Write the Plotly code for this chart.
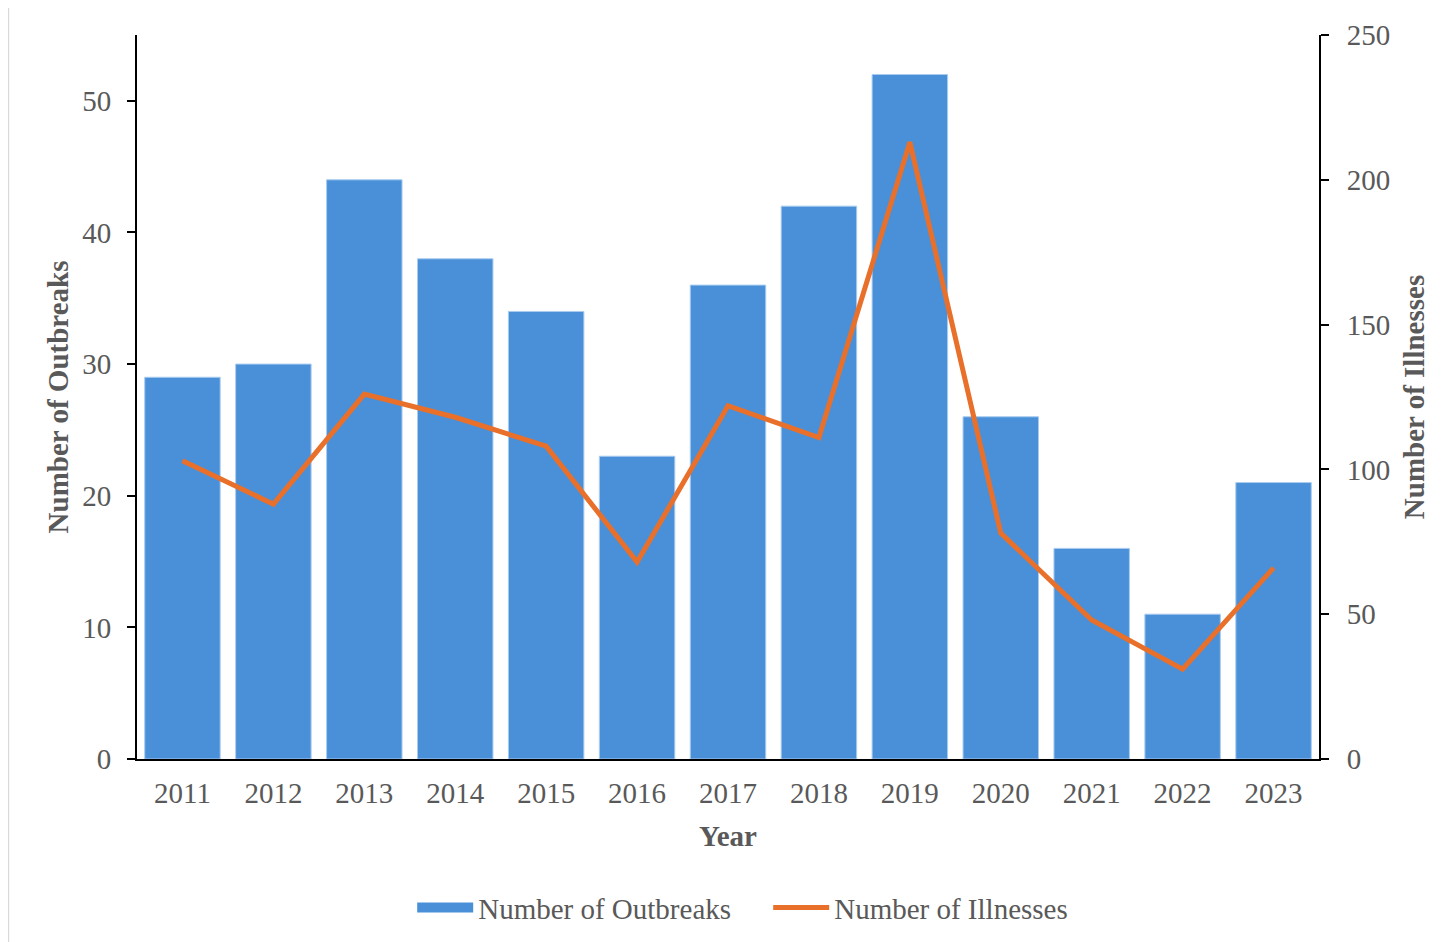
import plotly.graph_objects as go

years = ["2011", "2012", "2013", "2014", "2015", "2016", "2017", "2018", "2019", "2020", "2021", "2022", "2023"]
outbreaks = [29, 30, 44, 38, 34, 23, 36, 42, 52, 26, 16, 11, 21]
illnesses = [103, 88, 126, 118, 108, 68, 122, 111, 213, 78, 48, 31, 66]

left_ticks = [0, 10, 20, 30, 40, 50]
right_ticks = [0, 50, 100, 150, 200, 250]

BAR_COLOR = "#4A90D9"
LINE_COLOR = "#E8702A"
TEXT_COLOR = "#595959"
FONT = "Liberation Serif"
FS = 29

def f(size=FS):
    return dict(family=FONT, size=size, color=TEXT_COLOR)

fig = go.Figure()
fig.add_trace(go.Bar(
    x=years, y=outbreaks, name="Number of Outbreaks",
    marker=dict(color=BAR_COLOR, line=dict(color="#A9CBEF", width=1)),
    yaxis="y", showlegend=False,
))
# legend proxy for the bar series (wide rectangle symbol)
fig.add_trace(go.Scatter(
    x=[None], y=[None], name="Number of Outbreaks", mode="lines",
    line=dict(color=BAR_COLOR, width=16), yaxis="y",
))
fig.add_trace(go.Scatter(
    x=years, y=illnesses, name="Number of Illnesses", mode="lines",
    line=dict(color=LINE_COLOR, width=5),
    yaxis="y2",
))

fig.update_layout(
    width=1446, height=942,
    margin=dict(l=129, r=135, t=27, b=191),
    paper_bgcolor="white", plot_bgcolor="white",
    font=f(),
    bargap=0.17,
    showlegend=True,
    legend=dict(orientation="h", x=0.534, xanchor="center", y=-0.17, yanchor="top",
                font=f(), itemwidth=56, traceorder="normal", entrywidth=285),
    xaxis=dict(
        showline=True, linecolor="black", linewidth=2, ticks="", showgrid=False,
        tickfont=f(), ticklabelstandoff=7,
        title=dict(text="<b>Year</b>", font=f(), standoff=18),
    ),
    yaxis=dict(
        range=[0, 55], tickvals=left_ticks, showline=True, linecolor="black", linewidth=2,
        ticks="outside", ticklen=8, tickwidth=2, tickcolor="black", showgrid=False, zeroline=False,
        tickfont=f(), ticklabelstandoff=10,
        title=dict(text="<b>Number of Outbreaks</b>", font=f(), standoff=5),
    ),
    yaxis2=dict(
        range=[0, 250], tickvals=right_ticks, overlaying="y", side="right",
        showline=True, linecolor="black", linewidth=2,
        ticks="outside", ticklen=8, tickwidth=2, tickcolor="black", showgrid=False, zeroline=False,
        tickfont=f(), ticklabelstandoff=12,
        title=dict(text="<b>Number of Illnesses</b>", font=f(), standoff=14),
    ),
    shapes=[
        dict(type="line", xref="paper", yref="paper", x0=-0.109, x1=1.2, y0=1.0414, y1=1.0414,
             line=dict(color="#D9D9D9", width=2)),
        dict(type="line", xref="paper", yref="paper", x0=-0.109, x1=-0.109, y0=1.0414, y1=-0.3,
             line=dict(color="#D9D9D9", width=2)),
    ],
)

fig.write_html("out.html")
